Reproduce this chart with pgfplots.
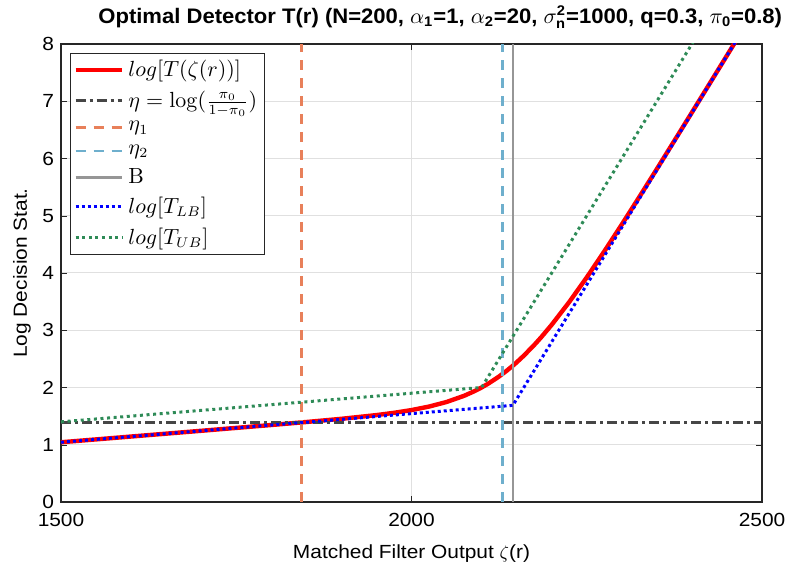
\documentclass[border=0pt]{standalone}
\usepackage[no-math]{fontspec}
\setmainfont{Liberation Sans}
\newfontfamily\labfont{Liberation Sans}[FakeStretch=1.1]
\newfontfamily\titfont{Liberation Sans}[FakeStretch=1.05]
\usepackage{pgfplots}
\pgfplotsset{compat=1.18}
\definecolor{etac}{RGB}{70,70,70}
\definecolor{eta1c}{RGB}{232,128,90}
\definecolor{eta2c}{RGB}{110,175,205}
\definecolor{bc}{RGB}{150,150,150}
\definecolor{ubc}{RGB}{46,139,87}
\begin{document}
\begin{tikzpicture}
\begin{axis}[
  scale only axis,
  width=350.5pt, height=229pt,
  xmin=1500, xmax=2500, ymin=0, ymax=8,
  xtick={1500,2000,2500}, ytick={0,1,2,3,4,5,6,7,8},
  /pgf/number format/assume math mode=true,
  /pgf/number format/1000 sep={},
  tick label style={font=\labfont\fontsize{9.5}{11}\selectfont},
  xticklabel style={yshift=-2pt},
  xlabel={Matched Filter Output $\zeta$(r)},
  ylabel={Log Decision Stat.},
  xlabel style={font=\labfont\fontsize{9.5}{11}\selectfont, at={(axis description cs:0.5,-0.113)}, anchor=center},
  ylabel style={font=\labfont\fontsize{9.5}{11}\selectfont, at={(axis description cs:-0.0556,0.5)}, anchor=center},
  every axis title shift=0pt,
  title={Optimal Detector T(r) (N=200, $\alpha_{\mbox{\scriptsize\bfseries 1}}$=1, $\alpha_{\mbox{\scriptsize\bfseries 2}}$=20, $\sigma^{\mbox{\scriptsize\bfseries 2}}_{\mbox{\scriptsize\bfseries n}}$=1000, q=0.3, $\pi_{\mbox{\scriptsize\bfseries 0}}$=0.8)},
  title style={font=\titfont\bfseries\fontsize{10.5}{12}\selectfont, at={(axis description cs:0.541,1.059)}, anchor=center},
  grid=major,
  major grid style={draw=black!12, line width=0.5pt},
  axis line style={draw=black!85, line width=0.6pt},
  tick style={draw=black!85},
  tick align=inside,
  major tick length=3pt,
  legend style={at={(0.0128,0.980)}, anchor=north west, font=\fontsize{10.5}{12}\selectfont,
    draw=black!85, inner sep=1.5pt, row sep=1.5pt},
  legend cell align=left,
  legend image code/.code={\draw[#1] (0cm,0cm) -- (0.82cm,0cm);},
]
\addplot[red, line width=2.2pt, no marks] coordinates {
(1500,1.0433) (1600,1.1433) (1700,1.2435) (1800,1.3447) (1850,1.3970) (1900,1.4529)
(1950,1.5178) (1975,1.5574) (2000,1.6055) (2025,1.6664) (2050,1.7466) (2075,1.8545)
(2090,1.9367) (2100,2.0000) (2110,2.0709) (2125,2.1925) (2135,2.2845) (2145,2.3853)
(2150,2.4391) (2160,2.5534) (2175,2.7415) (2185,2.8773) (2200,3.0954) (2225,3.4925)
(2250,3.9226) (2275,4.3766) (2300,4.8469) (2325,5.3280) (2350,5.8160) (2400,6.8038)
(2450,7.7990) (2500,8.7972)};
\addlegendentry{$log[T(\zeta(r))]$}
\addplot[etac, line width=1.3pt, dash pattern=on 5pt off 2pt on 1.5pt off 2pt, no marks] coordinates {(1500,1.3863) (2500,1.3863)};
\addlegendentry{$\eta=\log(\frac{\pi_0}{1-\pi_0})$}
\addplot[eta1c, line width=1.3pt, dash pattern=on 5pt off 4pt, no marks] coordinates {(1843.0,0) (1843.0,8)};
\addlegendentry{$\eta_1$}
\addplot[eta2c, line width=1.3pt, dash pattern=on 5pt off 4pt, no marks] coordinates {(2129.5,0) (2129.5,8)};
\addlegendentry{$\eta_2$}
\addplot[bc, line width=1.3pt, no marks] coordinates {(2144.6,0) (2144.6,8)};
\addlegendentry{$\mathrm{B}$}
\addplot[blue, line width=1.5pt, dash pattern=on 1.5pt off 1.5pt, no marks] coordinates {(1500,1.0433) (2144.6,1.6879) (2500,8.7960)};
\addlegendentry{$log[T_{LB}]$}
\addplot[ubc, line width=1.5pt, dash pattern=on 1.5pt off 1.8pt, no marks] coordinates {(1500,1.4) (2100,2.0) (2500,10.0)};
\addlegendentry{$log[T_{UB}]$}
\end{axis}
\pgfresetboundingbox
\path ([shift={(-30.5pt,-35.5pt)}]current axis.south west) rectangle ([shift={(12.5pt,22pt)}]current axis.north east);
\end{tikzpicture}
\end{document}
